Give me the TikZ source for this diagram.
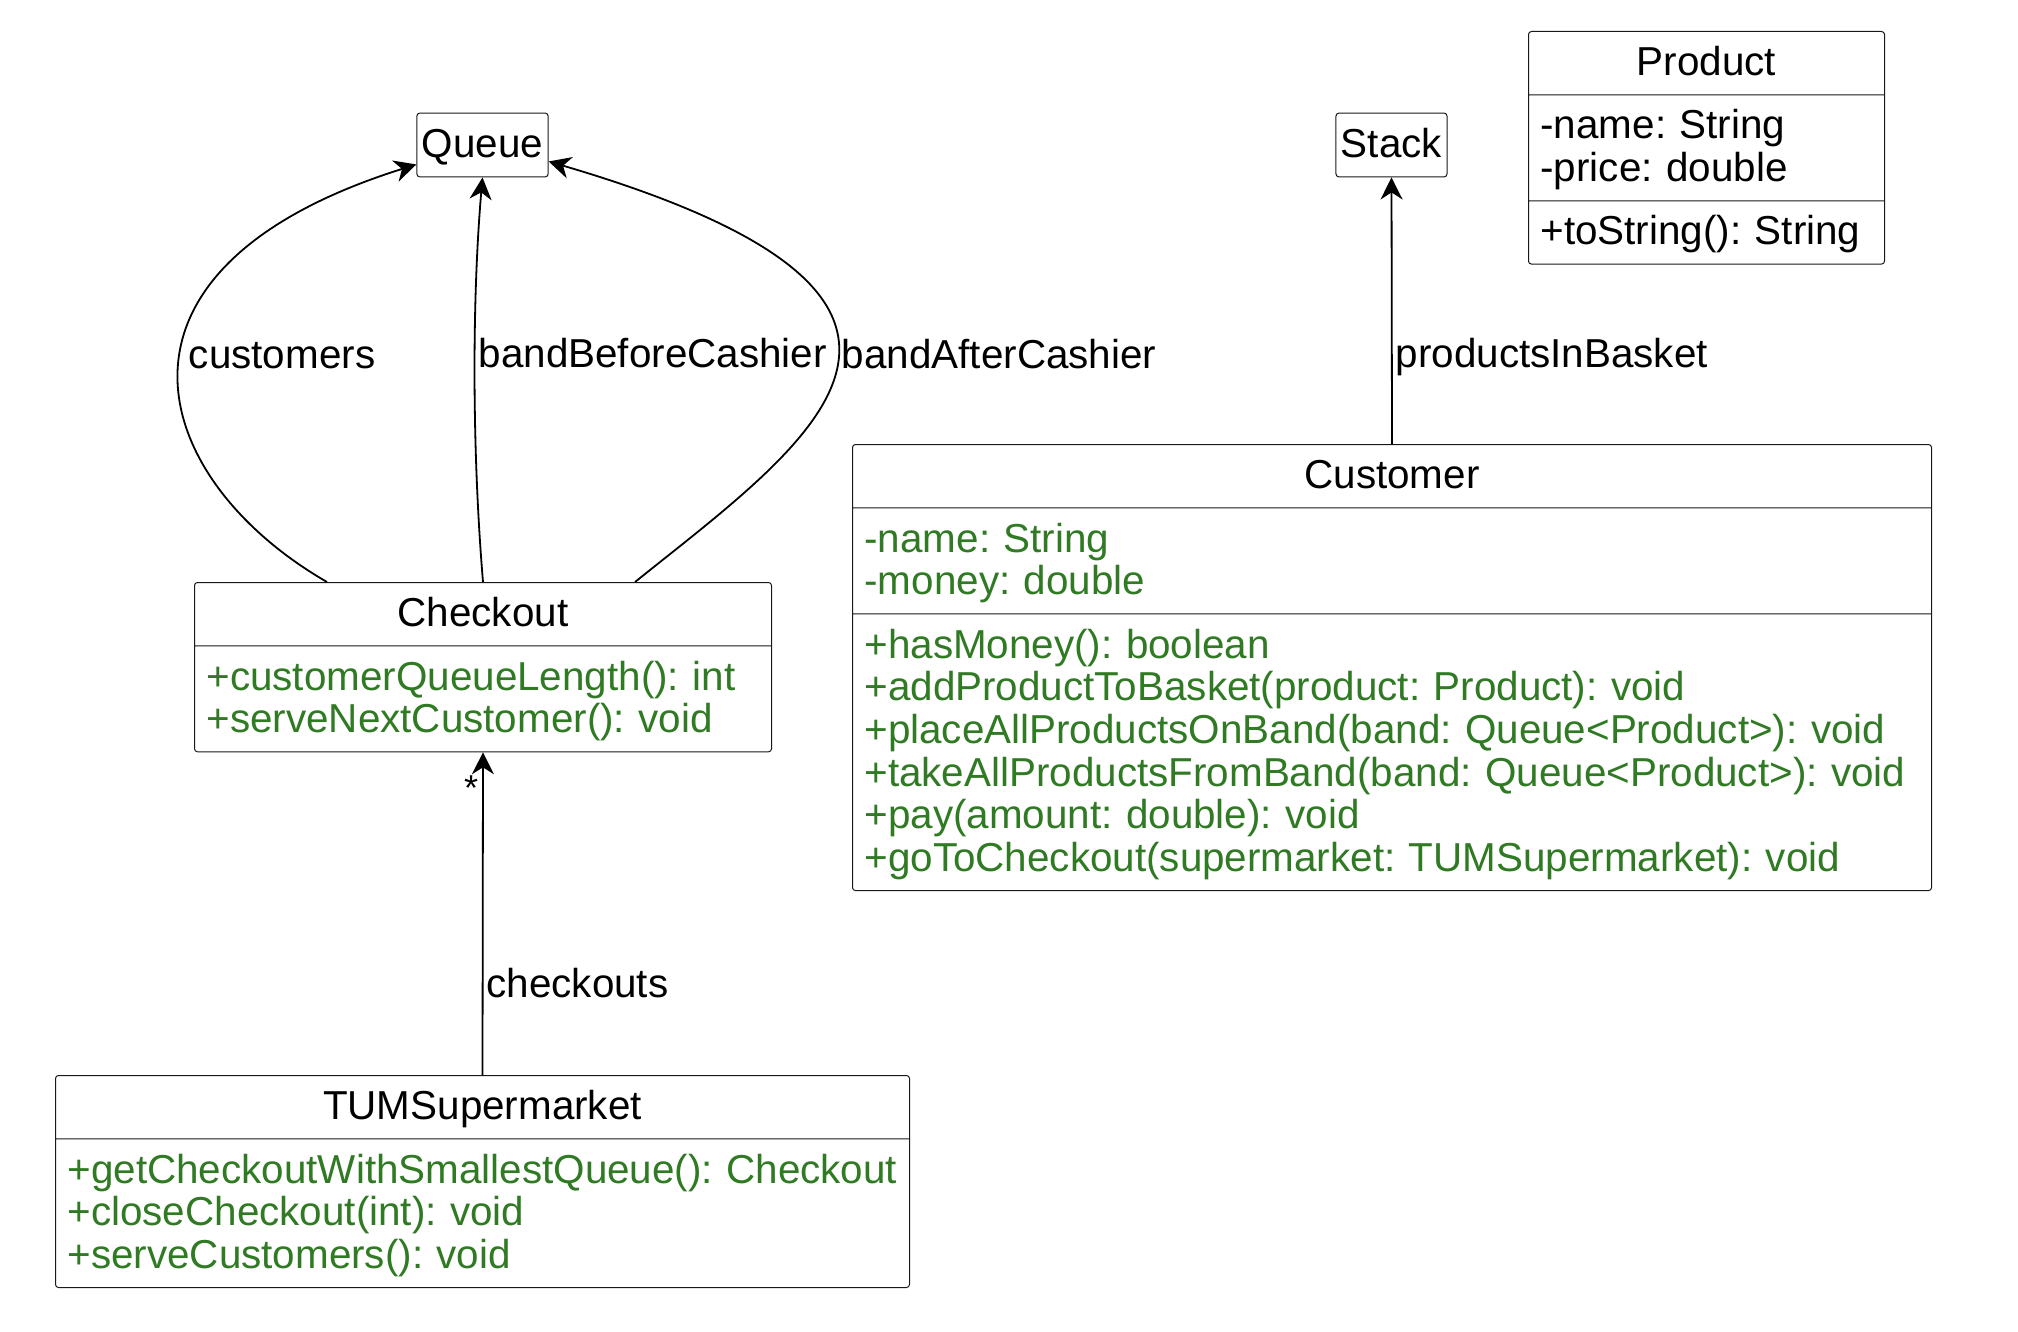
\documentclass[tikz,border=0pt]{standalone}
\usepackage{fontspec}
\setmainfont{Liberation Sans}
\usetikzlibrary{shapes.multipart,arrows.meta}
\definecolor{methodgreen}{RGB}{47,122,35}
\definecolor{boxline}{RGB}{24,24,24}
\newcommand{\umlfont}{\fontsize{20.2}{21.35}\selectfont\frenchspacing}
\newcommand{\mstrut}{\rule[-4.4pt]{0pt}{21.35pt}}
\newcommand{\classname}[1]{\makebox[\linewidth]{\mstrut #1}}

\tikzset{
  umlclass/.style={rectangle split, rectangle split parts=#1, draw=boxline, line width=0.5pt,
    rounded corners=1.5pt, align=left, inner xsep=6pt, inner ysep=4.9pt, anchor=north west, font=\umlfont},
  umltype/.style={draw=boxline, line width=0.5pt, rounded corners=1.5pt, inner xsep=2.5pt, inner ysep=5.3pt, font=\umlfont},
  assoc/.style={-{Stealth[length=11pt,width=11pt,inset=3.5pt]}, line width=0.9pt},
  rolename/.style={font=\umlfont, inner sep=1.5pt, anchor=west},
}

\begin{document}
\begin{tikzpicture}[x=0.5pt, y=-0.5pt]
	\useasboundingbox (0,0) rectangle (2018,1332);

	% types without members
	\node[umltype] (queue) at (482.5,145) {\mstrut Queue};
	\node[umltype] (stack) at (1391.5,145) {\mstrut Stack};

	% classes
	\node[umlclass=3, text width=166pt] (product) at (1528,31)
		{\classname{Product}
		 \nodepart{second}\mstrut -name: String\\\mstrut -price: double
		 \nodepart{third}\mstrut +toString(): String};

	\node[umlclass=2, text width=276.5pt] (checkout) at (194,582)
		{\classname{Checkout}
		 \nodepart{second}\color{methodgreen}\mstrut +customerQueueLength(): int\\
		 \mstrut +serveNextCustomer(): void};

	\node[umlclass=3, text width=527.5pt] (customer) at (852,444)
		{\classname{Customer}
		 \nodepart{second}\color{methodgreen}\mstrut -name: String\\\mstrut -money: double
		 \nodepart{third}\color{methodgreen}\mstrut +hasMoney(): boolean\\
		 \mstrut +addProductToBasket(product: Product): void\\
		 \mstrut +placeAllProductsOnBand(band: Queue<Product>): void\\
		 \mstrut +takeAllProductsFromBand(band: Queue<Product>): void\\
		 \mstrut +pay(amount: double): void\\
		 \mstrut +goToCheckout(supermarket: TUMSupermarket): void};

	\node[umlclass=2, text width=415pt] (supermarket) at (55,1075)
		{\classname{TUMSupermarket}
		 \nodepart{second}\color{methodgreen}\mstrut +getCheckoutWithSmallestQueue(): Checkout\\
		 \mstrut +closeCheckout(int): void\\
		 \mstrut +serveCustomers(): void};

	% associations
	\draw[assoc] ([xshift=-78pt]checkout.north) .. controls (150,480) and (80,270) .. ([yshift=6.5pt]queue.south west)
		node[rolename, pos=0.54, xshift=2pt] {customers};
	\draw[assoc] (checkout.north) .. controls (472,450) and (472,300) .. (queue.south)
		node[rolename, pos=0.555] {bandBeforeCashier};
	\draw[assoc] ([xshift=76pt]checkout.north) .. controls (812,440) and (1020,300) .. ([yshift=8pt]queue.south east)
		node[rolename, pos=0.54, xshift=0.5pt] {bandAfterCashier};
	\draw[assoc] (customer.north) -- (stack.south)
		node[rolename, pos=0.325] {productsInBasket};
	\draw[assoc] (supermarket.north) -- (checkout.south)
		node[rolename, pos=0.285] {checkouts}
		node[pos=0.89, anchor=east, inner sep=2pt, font=\fontsize{18}{18}\selectfont] {*};
\end{tikzpicture}
\end{document}
